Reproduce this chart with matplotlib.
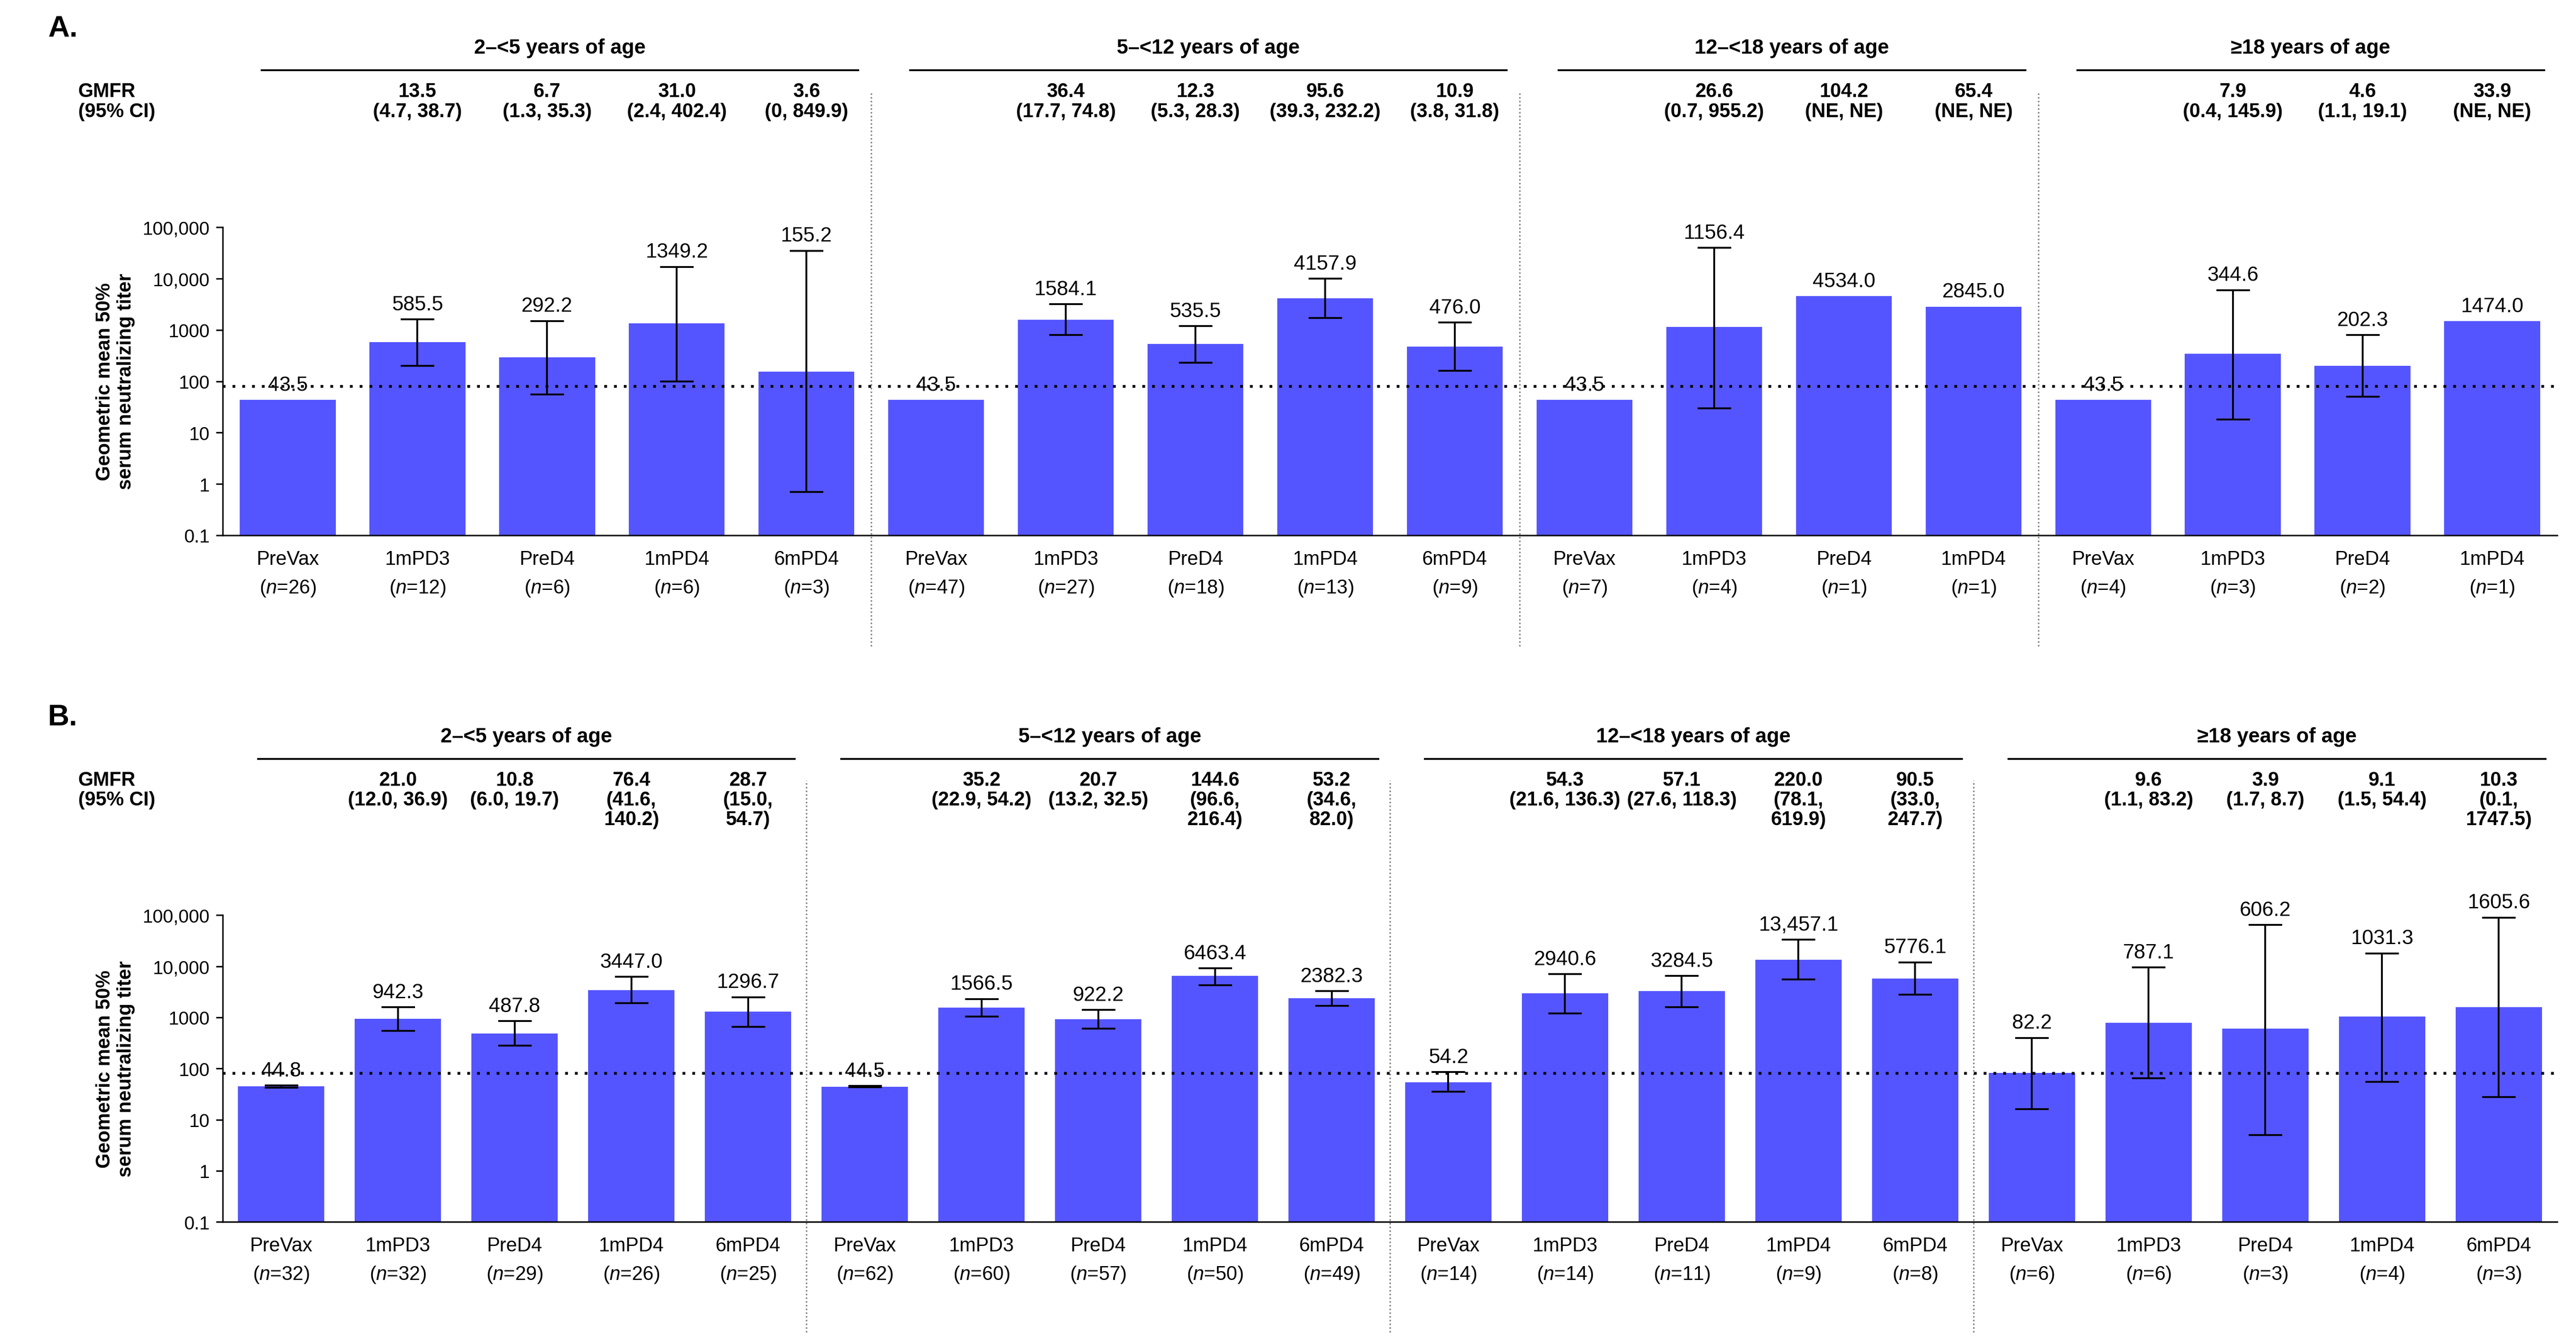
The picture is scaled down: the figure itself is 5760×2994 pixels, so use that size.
import matplotlib
matplotlib.use("Agg")
import matplotlib.pyplot as plt
import matplotlib.transforms as mtrans
from matplotlib.ticker import FixedLocator

plt.rcParams['font.family'] = ['Liberation Sans', 'DejaVu Sans']
plt.rcParams['mathtext.fontset'] = 'custom'
plt.rcParams['mathtext.it'] = 'Liberation Sans:italic'

groups = ["2–<5 years of age", "5–<12 years of age", "12–<18 years of age", "≥18 years of age"]

# Panel A
A_labels = ["PreVax","1mPD3","PreD4","1mPD4","6mPD4"]*2 + ["PreVax","1mPD3","PreD4","1mPD4"]*2
A_n = [26,12,6,6,3, 47,27,18,13,9, 7,4,1,1, 4,3,2,1]
A_gmt = [43.5,585.5,292.2,1349.2,155.2, 43.5,1584.1,535.5,4157.9,476.0, 43.5,1156.4,4534.0,2845.0, 43.5,344.6,202.3,1474.0]
A_lo = [None,200,55,100,0.7, None,800,230,1700,160, None,30,None,None, None,18,50,None]
A_hi = [None,1600,1500,17000,35000, None,3200,1200,10000,1400, None,40000,None,None, None,6000,800,None]
A_sizes = [5,5,4,4]
A_gmfr = [None,"13.5\n(4.7, 38.7)","6.7\n(1.3, 35.3)","31.0\n(2.4, 402.4)","3.6\n(0, 849.9)",
          None,"36.4\n(17.7, 74.8)","12.3\n(5.3, 28.3)","95.6\n(39.3, 232.2)","10.9\n(3.8, 31.8)",
          None,"26.6\n(0.7, 955.2)","104.2\n(NE, NE)","65.4\n(NE, NE)",
          None,"7.9\n(0.4, 145.9)","4.6\n(1.1, 19.1)","33.9\n(NE, NE)"]
A_vals = ["43.5","585.5","292.2","1349.2","155.2","43.5","1584.1","535.5","4157.9","476.0",
          "43.5","1156.4","4534.0","2845.0","43.5","344.6","202.3","1474.0"]

# Panel B
B_labels = ["PreVax","1mPD3","PreD4","1mPD4","6mPD4"]*4 
B_labels = B_labels[:19]
B_labels = ["PreVax","1mPD3","PreD4","1mPD4","6mPD4"]*3 + ["PreVax","1mPD3","PreD4","1mPD4","6mPD4"]
B_n = [32,32,29,26,25, 62,60,57,50,49, 14,14,11,9,8, 6,6,3,4,3]
B_gmt = [44.8,942.3,487.8,3447.0,1296.7, 44.5,1566.5,922.2,6463.4,2382.3,
         54.2,2940.6,3284.5,13457.1,5776.1, 82.2,787.1,606.2,1031.3,1605.6]
B_lo = [42,550,280,1900,650, 43,1050,600,4300,1700, 35,1200,1600,5500,2800, 16,65,5,55,28]
B_hi = [47,1600,850,6200,2500, 46,2300,1400,9200,3300, 85,7000,6500,33000,12000, 400,9500,65000,18000,90000]
B_sizes = [5,5,5,5]
B_gmfr = [None,"21.0\n(12.0, 36.9)","10.8\n(6.0, 19.7)","76.4\n(41.6,\n140.2)","28.7\n(15.0,\n54.7)",
          None,"35.2\n(22.9, 54.2)","20.7\n(13.2, 32.5)","144.6\n(96.6,\n216.4)","53.2\n(34.6,\n82.0)",
          None,"54.3\n(21.6, 136.3)","57.1\n(27.6, 118.3)","220.0\n(78.1,\n619.9)","90.5\n(33.0,\n247.7)",
          None,"9.6\n(1.1, 83.2)","3.9\n(1.7, 8.7)","9.1\n(1.5, 54.4)","10.3\n(0.1,\n1747.5)"]
B_vals = ["44.8","942.3","487.8","3447.0","1296.7","44.5","1566.5","922.2","6463.4","2382.3",
          "54.2","2940.6","3284.5","13,457.1","5776.1","82.2","787.1","606.2","1031.3","1605.6"]

LLOQ = 80
color = "#5555FF"

fig = plt.figure(figsize=(19.203, 9.983), dpi=300)
axA = fig.add_axes([0.0865, 0.600, 0.906, 0.230])
axB = fig.add_axes([0.0865, 0.0874, 0.906, 0.229])

def panel(ax, labels, ns, gmt, lo, hi, sizes, gmfr, vals, letter):
    N = len(gmt)
    x = list(range(N))
    ax.bar(x, gmt, width=0.74, color=color, zorder=2)
    for i in range(N):
        if lo[i] is not None:
            ax.errorbar(x[i], gmt[i], yerr=[[gmt[i]-lo[i]], [hi[i]-gmt[i]]], fmt='none',
                        ecolor='black', elinewidth=1.0, capsize=9, capthick=1.0, zorder=3)
            top = hi[i]
        else:
            top = gmt[i]
        ax.text(x[i], top*1.25, vals[i], ha='center', va='bottom', fontsize=11, zorder=4)
    ax.set_yscale('log')
    ax.set_ylim(0.1, 100000)
    ax.set_xlim(-0.5, N-0.5)
    ax.yaxis.set_major_locator(FixedLocator([0.1,1,10,100,1000,10000,100000]))
    ax.set_yticklabels(["0.1","1","10","100","1000","10,000","100,000"], fontsize=10)
    ax.yaxis.set_minor_locator(FixedLocator([]))
    ax.set_xticks(x)
    ax.set_xticklabels([f"{l}\n($\\it{{n}}$={n})" for l, n in zip(labels, ns)], fontsize=10.5, linespacing=1.6)
    ax.tick_params(axis='x', length=0, pad=8)
    for s in ['top', 'right']:
        ax.spines[s].set_visible(False)
    ax.axhline(LLOQ, color='black', ls=(0, (1, 2.5)), lw=1.5, zorder=5)
    ax.set_ylabel("Geometric mean 50%\nserum neutralizing titer", fontsize=10.5, fontweight='bold')
    tr = mtrans.blended_transform_factory(ax.transData, ax.transAxes)
    start = 0
    for gi, sz in enumerate(sizes):
        end = start + sz - 1
        ax.plot([start-0.2, end+0.4], [1.51, 1.51], color='black', lw=1.0, transform=tr, clip_on=False)
        ax.text((start+end)/2+0.1, 1.55, groups[gi], ha='center', va='bottom', fontsize=11,
                fontweight='bold', transform=tr)
        if gi < len(sizes)-1:
            ax.plot([end+0.5, end+0.5], [-0.36, 1.44], color='gray', ls=(0, (1, 1.5)), lw=0.8,
                    transform=tr, clip_on=False)
        start = end + 1
    for i in range(N):
        if gmfr[i]:
            ax.text(x[i], 1.47, gmfr[i], ha='center', va='top', fontsize=10.5, fontweight='bold',
                    transform=tr, linespacing=1.1)
    ax.text(-0.062, 1.47, "GMFR\n(95% CI)", ha='left', va='top', fontsize=10.5, fontweight='bold',
            transform=ax.transAxes, linespacing=1.1)
    ax.text(-0.075, 1.60, letter, ha='left', va='bottom', fontsize=16, fontweight='bold',
            transform=ax.transAxes)

panel(axA, A_labels, A_n, A_gmt, A_lo, A_hi, A_sizes, A_gmfr, A_vals, "A.")
panel(axB, B_labels, B_n, B_gmt, B_lo, B_hi, B_sizes, B_gmfr, B_vals, "B.")

fig.savefig("out.png", dpi=300)
